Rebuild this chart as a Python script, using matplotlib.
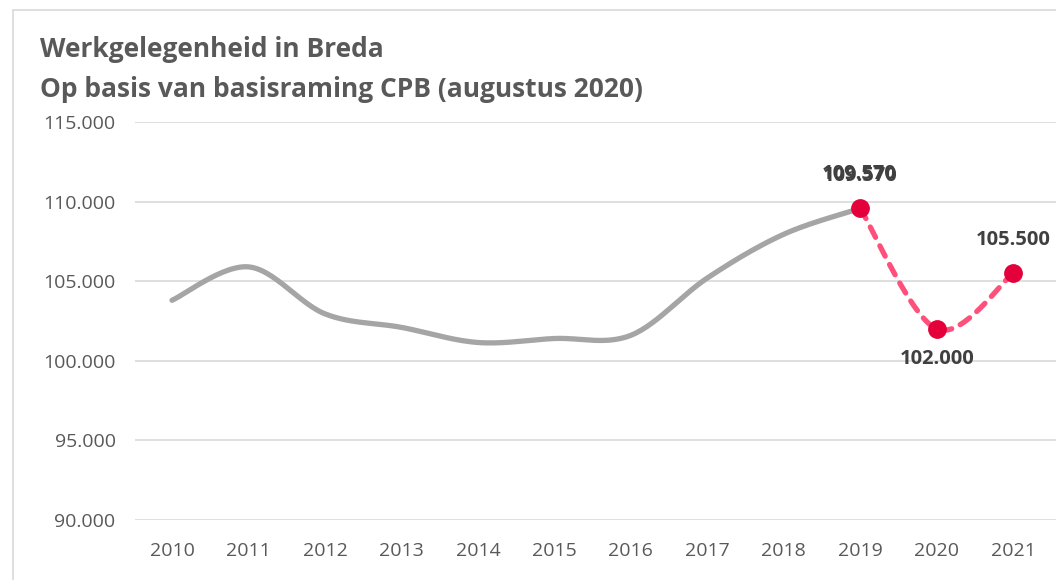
import numpy as np
import matplotlib.pyplot as plt
from matplotlib.patches import Rectangle

jaren = ['2010', '2011', '2012', '2013', '2014', '2015', '2016', '2017', '2018', '2019', '2020', '2021']
werk = [103800, 105900, 102950, 102100, 101150, 101400, 101600, 105200, 107950, 109570]
raming = [109570, 102000, 105500]
raming_labels = ['109.570', '102.000', '105.500']

GRIJS = '#A5A5A5'
ROZE = '#FF4F7B'
ROOD = '#E4003A'
TEKST = '#595959'


def smooth(xs, ys, n=30):
    # catmull-rom, zoals de 'vloeiende lijn' in Excel
    xs = np.asarray(xs, float)
    ys = np.asarray(ys, float)
    px = np.concatenate([[xs[0]], xs, [xs[-1]]])
    py = np.concatenate([[ys[0]], ys, [ys[-1]]])
    outx, outy = [], []
    for i in range(1, len(px) - 2):
        t = np.linspace(0, 1, n)
        for p, out in ((px, outx), (py, outy)):
            p0, p1, p2, p3 = p[i - 1], p[i], p[i + 1], p[i + 2]
            out.extend(0.5 * (2 * p1 + (-p0 + p2) * t + (2 * p0 - 5 * p1 + 4 * p2 - p3) * t ** 2
                              + (-p0 + 3 * p1 - 3 * p2 + p3) * t ** 3))
    return outx, outy


fig = plt.figure(figsize=(10.56, 5.8), dpi=100)
fig.patches.append(Rectangle((13 / 1056, -0.1), 1.2, 1.1 - 10 / 580, transform=fig.transFigure,
                             fill=False, edgecolor='#D9D9D9', linewidth=1.2))

ax = fig.add_axes([135 / 1056, 1 - 520 / 580, (1056 - 135) / 1056, (520 - 122) / 580])
ax.set_xlim(-0.484, 11.56)
ax.set_ylim(90000, 115000)

x_werk = np.arange(len(werk))
x_raming = np.arange(9, 12)

gx, gy = smooth(x_werk, werk)
ax.plot(gx, gy, color=GRIJS, linewidth=3.8, solid_capstyle='round', zorder=3)
rx, ry = smooth(x_raming, raming)
ax.plot(rx, ry, color=ROZE, linewidth=3.8, linestyle=(0, (2.2, 1.8)), dash_capstyle='round', zorder=3)
ax.plot(x_raming, raming, 'o', color=ROOD, markersize=12.5, zorder=4)

lab_font = dict(fontsize=14.5, fontweight='bold', color='#404040', family='Open Sans', ha='center')
ax.annotate(raming_labels[0], (x_raming[0], raming[0]), xytext=(0, 20), textcoords='offset points', **lab_font)
ax.annotate(raming_labels[0], (x_raming[0], raming[0]), xytext=(-0.8, 21), textcoords='offset points', **lab_font)
ax.annotate(raming_labels[1], (x_raming[1], raming[1]), xytext=(0, -25), textcoords='offset points', **lab_font)
ax.annotate(raming_labels[2], (x_raming[2], raming[2]), xytext=(0, 20), textcoords='offset points', **lab_font)

ax.set_xticks(range(len(jaren)))
ax.set_xticklabels(jaren)
yt = np.arange(90000, 115001, 5000)
ax.set_yticks(yt)
ax.set_yticklabels([f'{v / 1000:.3f}' for v in yt])
ax.tick_params(length=0, labelsize=14, labelcolor=TEKST)
ax.tick_params(axis='x', pad=16)
ax.tick_params(axis='y', pad=14)
for lbl in ax.get_xticklabels() + ax.get_yticklabels():
    lbl.set_family('Open Sans')
ax.grid(axis='y', color='#D9D9D9', linewidth=1.2)
ax.set_axisbelow(True)
for s in ax.spines.values():
    s.set_visible(False)

fig.text(40 / 1056, 1 - 57 / 580, 'Werkgelegenheid in Breda', fontsize=19, fontweight='bold',
         color=TEKST, family='Open Sans', va='baseline')
fig.text(40 / 1056, 1 - 97 / 580, 'Op basis van basisraming CPB (augustus 2020)', fontsize=19,
         fontweight='bold', color=TEKST, family='Open Sans', va='baseline')

fig.savefig('out.png', dpi=100)
